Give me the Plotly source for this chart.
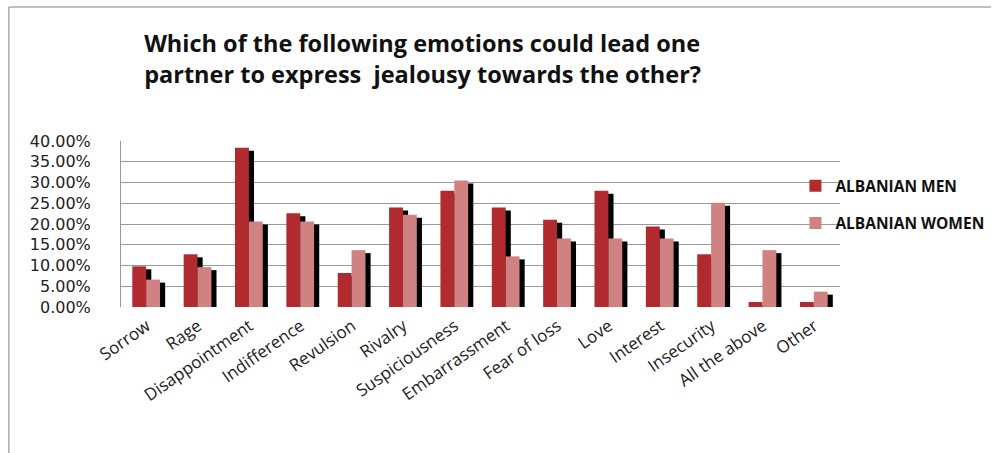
import plotly.graph_objects as go

categories = ["Sorrow", "Rage", "Disappointment", "Indifference", "Revulsion", "Rivalry",
              "Suspiciousness", "Embarrassment", "Fear of loss", "Love", "Interest",
              "Insecurity", "All the above", "Other"]
men = [0.098, 0.127, 0.384, 0.226, 0.082, 0.240, 0.280, 0.240, 0.210, 0.280, 0.194, 0.127, 0.012, 0.012]
women = [0.066, 0.096, 0.206, 0.206, 0.137, 0.222, 0.305, 0.122, 0.165, 0.165, 0.165, 0.251, 0.137, 0.037]
y_ticks = [0, 0.05, 0.10, 0.15, 0.20, 0.25, 0.30, 0.35, 0.40]

MEN_COLOR = "#B02A2E"
WOMEN_COLOR = "#D08282"
SHADOW = "#000000"
BAR_W = 0.27
SHADOW_DX = 0.1
SHADOW_DY = 0.0072

x = list(range(len(categories)))
fig = go.Figure()

# black depth shadows behind each bar
for vals, off in ((men, -0.28), (women, -0.01)):
    fig.add_trace(go.Bar(
        x=x, y=[max(v - SHADOW_DY, 0) for v in vals], offset=off + SHADOW_DX, width=BAR_W,
        marker=dict(color=SHADOW, line=dict(width=0)), showlegend=False, hoverinfo="skip"))

fig.add_trace(go.Bar(x=x, y=men, offset=-0.28, width=BAR_W, name="ALBANIAN MEN",
                     legendgroup="m", marker=dict(color=MEN_COLOR, line=dict(width=0))))
fig.add_trace(go.Bar(x=x, y=women, offset=-0.01, width=BAR_W, name="ALBANIAN WOMEN",
                     legendgroup="w", marker=dict(color=WOMEN_COLOR, line=dict(width=0))))

frame = dict(color="#AAAAAA", width=1.5)
fig.update_layout(
    template="none",
    barmode="overlay",
    width=1001, height=453,
    margin=dict(l=121, r=149, t=141, b=146),
    paper_bgcolor="white", plot_bgcolor="white",
    title=dict(
        text="Which of the following emotions could lead one<br>partner to express  jealousy towards the other?",
        x=0.144, xref="container", xanchor="left",
        y=0.885, yref="container", yanchor="top",
        font=dict(family="Open Sans", size=23.5, color="#111111", weight="bold")),
    xaxis=dict(range=[-0.5, 13.5], tickmode="array", tickvals=x, ticktext=categories,
               tickangle=-35, showgrid=False, zeroline=False, showline=False, ticks="",
               ticklabelstandoff=5,
               tickfont=dict(family="Open Sans", size=17, color="#222222")),
    yaxis=dict(range=[0, 0.40], tickmode="array", tickvals=y_ticks, tickformat=".2%",
               showgrid=True, gridcolor="#999999", gridwidth=1, zeroline=False,
               showline=True, linecolor="#999999", linewidth=1, ticks="",
               ticklabelstandoff=26,
               tickfont=dict(family="DejaVu Sans", size=16, color="#222222")),
    legend=dict(x=0.938, y=0.83, xanchor="left", yanchor="top", bgcolor="rgba(0,0,0,0)",
                traceorder="grouped", tracegroupgap=14,
                font=dict(family="Open Sans", size=15.5, color="#111111", weight="bold")),
    shapes=[
        dict(type="line", xref="paper", yref="paper", x0=-0.156, x1=-0.156, y0=-0.9, y1=1.807, line=frame),
        dict(type="line", xref="paper", yref="paper", x0=-0.156, x1=1.21, y0=1.807, y1=1.807, line=frame),
    ],
)

fig.write_html("out.html")
